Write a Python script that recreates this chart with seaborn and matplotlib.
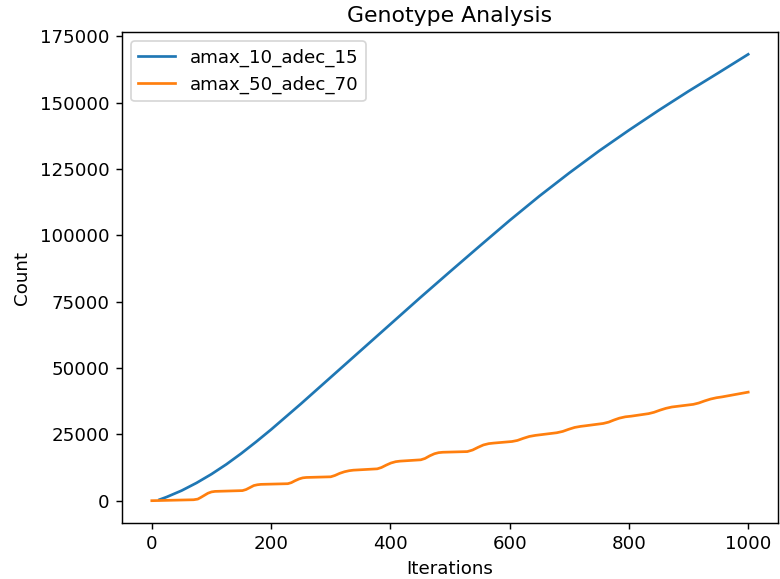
import matplotlib
matplotlib.use("Agg")
import matplotlib.pyplot as plt
import seaborn as sns
import pandas as pd

# Series 1: amax_10_adec_15
blue_iter = [13, 25, 50, 75, 100, 125, 150, 175, 200, 250, 300, 350, 400, 450,
             500, 550, 600, 650, 700, 750, 800, 850, 900, 950, 1000]
blue_count = [400, 1400, 3800, 6700, 10000, 13700, 17800, 22200, 26800, 36500,
              46500, 56500, 66500, 76500, 86300, 96000, 105600, 114800, 123500,
              131800, 139600, 147100, 154300, 161200, 168200]

# Series 2: amax_50_adec_70
orange_iter = [0, 70, 77, 82, 88, 94, 100, 106, 152, 158, 165, 171, 177, 183,
               228, 234, 240, 247, 253, 259, 300, 307, 315, 323, 331, 338, 378,
               385, 393, 401, 409, 416, 451, 458, 466, 474, 481, 488, 529, 538,
               547, 556, 565, 573, 604, 613, 623, 633, 643, 652, 679, 689, 699,
               709, 719, 728, 757, 766, 775, 784, 794, 804, 833, 842, 852, 862,
               872, 881, 908, 917, 927, 937, 947, 956, 1000]
orange_count = [0, 350, 600, 1200, 2000, 2800, 3300, 3500, 3800, 4200, 5000,
                5700, 6000, 6150, 6400, 6800, 7500, 8200, 8600, 8750, 9000, 9500,
                10300, 10900, 11300, 11500, 12000, 12500, 13400, 14200, 14700,
                14900, 15400, 15900, 16900, 17700, 18100, 18250, 18500, 19100,
                20100, 21000, 21500, 21700, 22300, 22700, 23500, 24200, 24600,
                24850, 25600, 26100, 26900, 27600, 28000, 28250, 29100, 29600,
                30400, 31100, 31600, 31850, 32800, 33300, 34100, 34800, 35300,
                35550, 36300, 36800, 37600, 38300, 38800, 39100, 40900]

labels = ["amax_10_adec_15", "amax_50_adec_70"]
title = "Genotype Analysis"
xlabel = "Iterations"
ylabel = "Count"

df_blue = pd.DataFrame({"Iterations": blue_iter, "Count": blue_count})
df_orange = pd.DataFrame({"Iterations": orange_iter, "Count": orange_count})

s = 1.065
t = 1.08
plt.rcParams.update({
    "font.size": 10 * t,
    "axes.titlesize": 12 * t,
    "axes.labelsize": 10 * t,
    "xtick.labelsize": 10 * t,
    "ytick.labelsize": 10 * t,
    "legend.fontsize": 10 * t,
    "lines.linewidth": 1.5 * s,
    "axes.linewidth": 0.8 * s,
    "xtick.major.size": 3.5 * s,
    "ytick.major.size": 3.5 * s,
    "xtick.major.width": 0.8 * s,
    "ytick.major.width": 0.8 * s,
})

dpi = 122
fig = plt.figure(figsize=(780 / dpi, 579 / dpi), dpi=dpi)
ax = fig.add_axes([122 / 780, (579 - 523) / 579, (778 - 122) / 780, (523 - 32) / 579])

sns.lineplot(data=df_blue, x="Iterations", y="Count", ax=ax, color="#1f77b4",
             label=labels[0])
sns.lineplot(data=df_orange, x="Iterations", y="Count", ax=ax, color="#ff7f0e",
             label=labels[1])

ax.set_title(title)
ax.set_xlabel(xlabel)
ax.set_ylabel(ylabel, labelpad=5.5)
ax.set_xticks([0, 200, 400, 600, 800, 1000])
ax.set_yticks([0, 25000, 50000, 75000, 100000, 125000, 150000, 175000])
ax.legend(loc="upper left")

fig.savefig("out.png", dpi=dpi)
